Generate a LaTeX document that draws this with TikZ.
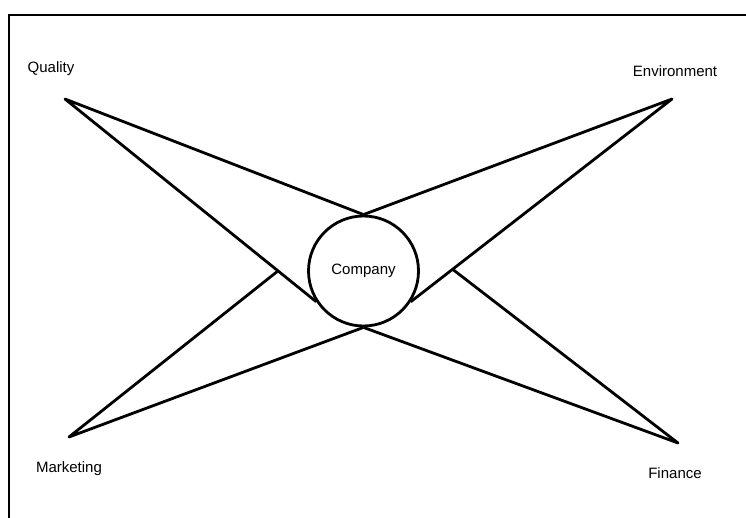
\documentclass[tikz,border=0pt]{standalone}
\usepackage{fontspec}
\setmainfont{Liberation Sans}
\usetikzlibrary{calc}
\begin{document}
\begin{tikzpicture}[x=1pt,y=-1pt,
  arm/.style={line width=2.8pt, line join=round},
  lbl/.style={font=\fontsize{15}{18}\selectfont, inner sep=0pt},
  frameline/.style={line width=2.8pt}]
\useasboundingbox (0,0) rectangle (746,518);
\draw[frameline] (9,518) -- (9,15) -- (746,15);
\node[circle, draw, line width=2.8pt, minimum size=110pt, inner sep=0pt, font=\fontsize{15}{18}\selectfont] (company) at (363.5,271) {Company};
\coordinate (q) at (65,99);
\coordinate (e) at (672,99);
\coordinate (m) at (69,437);
\coordinate (f) at (678,443);
\coordinate (qm) at ($(q)!0.848!(company.213)$);
\coordinate (ef) at ($(e)!0.84!(company.327)$);
\draw[arm] (company.north) -- (q) -- (company.213);
\draw[arm] (company.north) -- (e) -- (company.327);
\draw[arm] (company.south) -- (m) -- (qm);
\draw[arm] (company.south) -- (f) -- (ef);
\node[lbl] (lq) at (51,69) {Quality};
\node[lbl] (le) at (675,71) {Environment};
\node[lbl] (lm) at (69,469) {Marketing};
\node[lbl] (lf) at (675,473) {Finance};
\end{tikzpicture}
\end{document}
